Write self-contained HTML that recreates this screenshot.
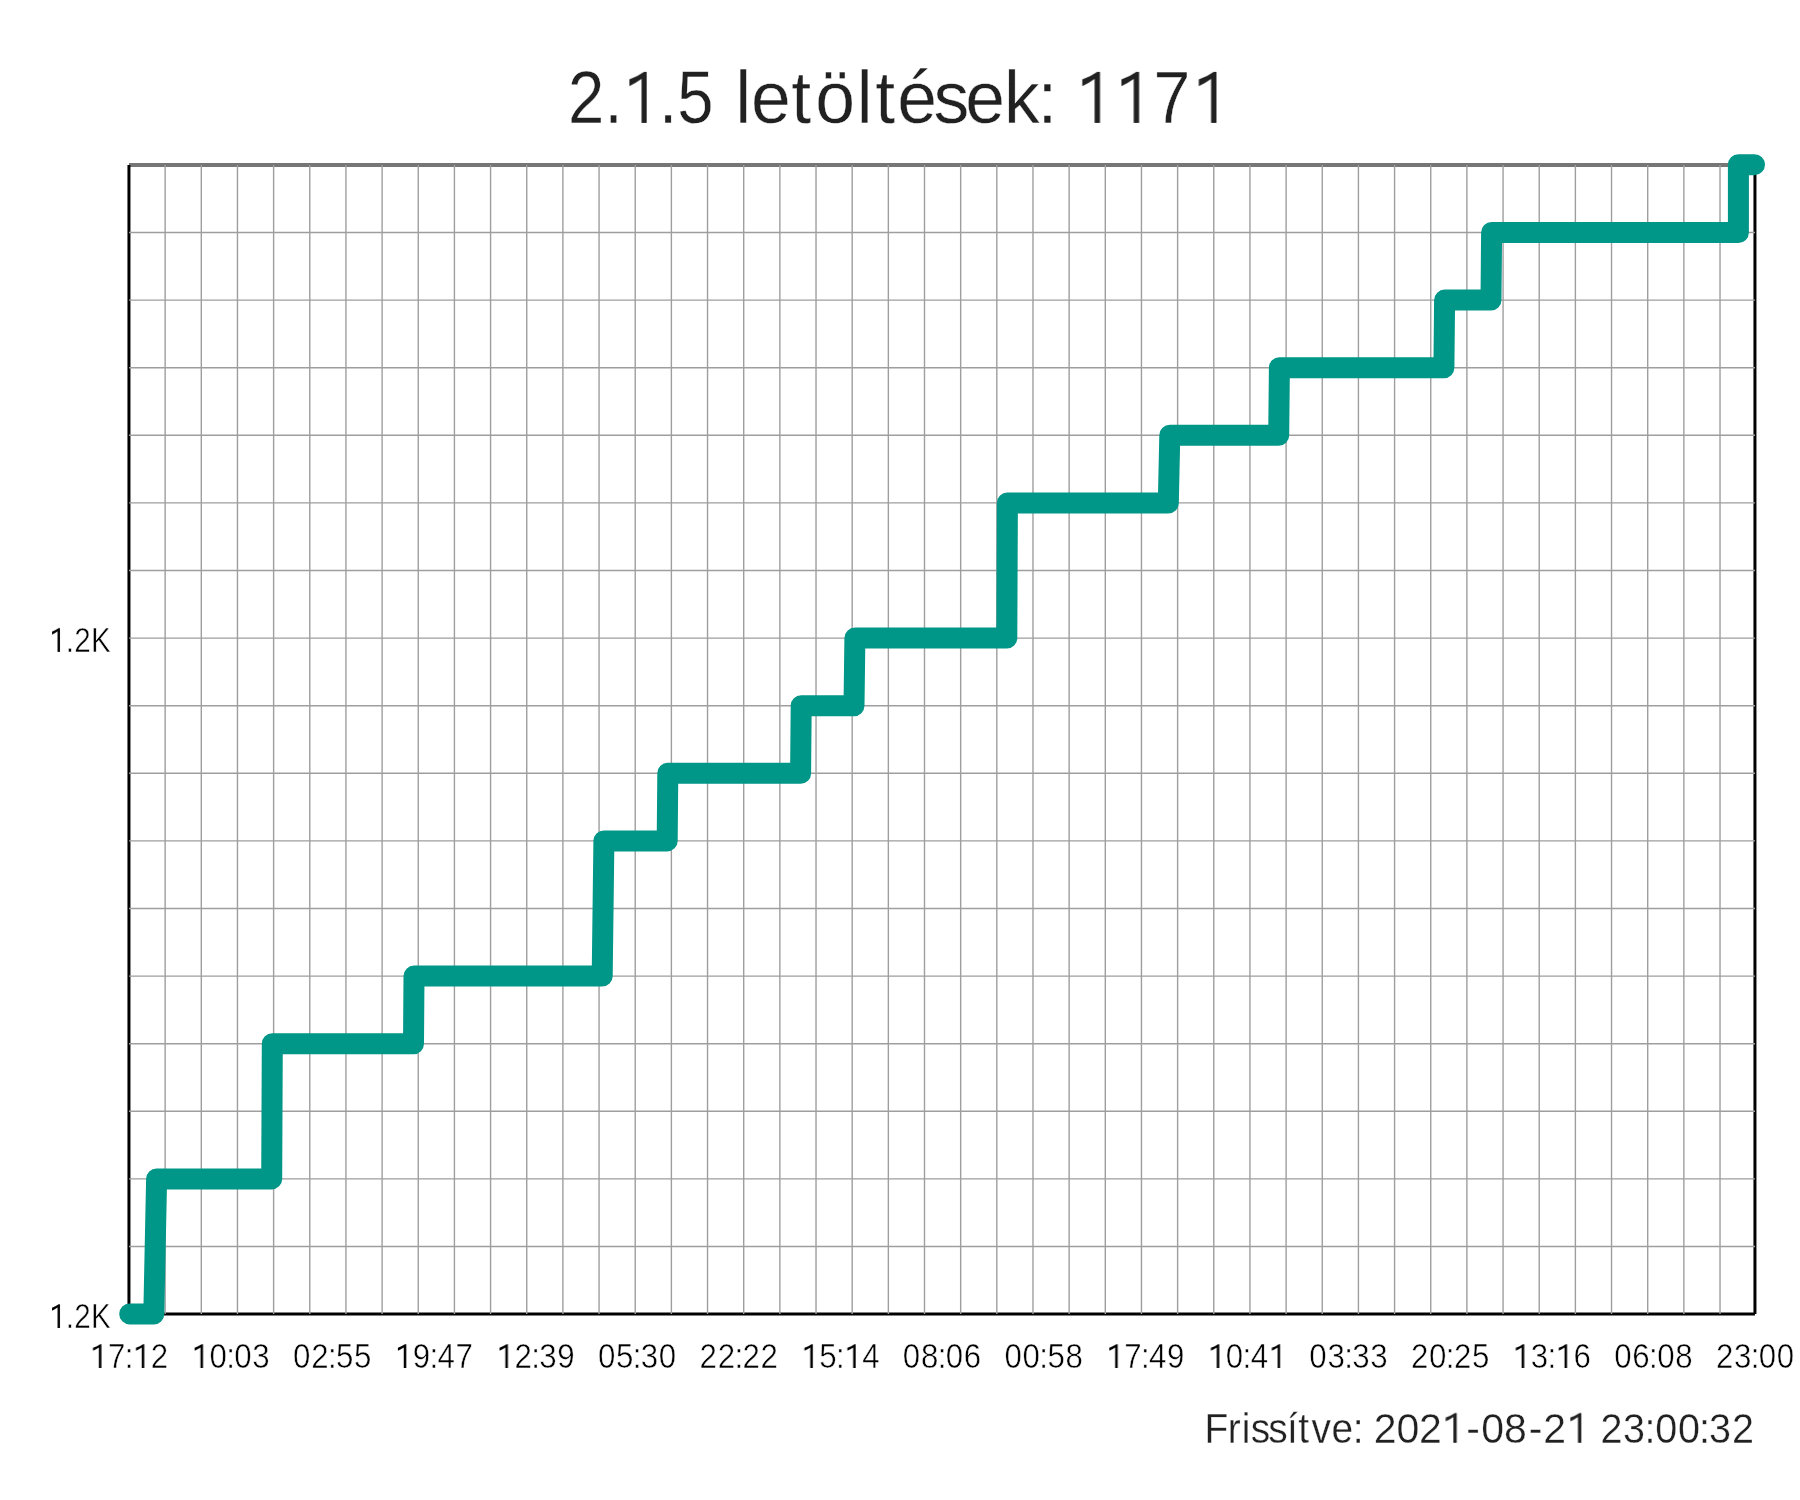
<!DOCTYPE html>
<html lang="hu"><head><meta charset="utf-8"><title>2.1.5 letöltések</title>
<style>
html,body{margin:0;padding:0;background:#fff;overflow:hidden;}
body{width:1800px;height:1500px;overflow:hidden;}
svg{display:block;font-family:"Liberation Sans",sans-serif;-webkit-font-smoothing:antialiased;}
text{will-change:transform;}
</style></head><body>
<svg width="1800" height="1500" viewBox="0 0 1800 1500">
<rect width="1800" height="1500" fill="#fff"/>
<g font-size="74.1" fill="#212121" stroke="#fff" stroke-width="0.42">
<text x="645.59 686.87 710.14 748.91 769.74" y="0" transform="translate(0,122.9) scale(0.88,1)">2.<tspan visibility="hidden">1</tspan>.5</text><g stroke="none" transform="translate(0,122.9) scale(0.88,1)"><path transform="translate(710.14,0) scale(0.03618,-0.03618)" d="M522 0L522 1216Q340 1098 141 1014L141 1200Q420 1290 600 1409L689 1409L689 0Z"/></g>
<text x="761.11 777.40 819.02 843.99 886.89 906.08 928.74 966.25 999.14 1039.38 1073.97" y="0" transform="translate(0,122.9) scale(0.966,1)">letöltések:</text>
<text x="1206.87 1250.66 1291.82 1337.33" y="0" transform="translate(0,122.9) scale(0.893,1)"><tspan visibility="hidden">1</tspan><tspan visibility="hidden">1</tspan>7<tspan visibility="hidden">1</tspan></text><g stroke="none" transform="translate(0,122.9) scale(0.893,1)"><path transform="translate(1206.87,0) scale(0.03618,-0.03618)" d="M522 0L522 1216Q340 1098 141 1014L141 1200Q420 1290 600 1409L689 1409L689 0Z"/><path transform="translate(1250.66,0) scale(0.03618,-0.03618)" d="M522 0L522 1216Q340 1098 141 1014L141 1200Q420 1290 600 1409L689 1409L689 0Z"/><path transform="translate(1337.33,0) scale(0.03618,-0.03618)" d="M522 0L522 1216Q340 1098 141 1014L141 1200Q420 1290 600 1409L689 1409L689 0Z"/></g>
</g>
<line x1="129" y1="165" x2="1756" y2="165" stroke="#767676" stroke-width="3.9"/>
<g stroke="#000" stroke-width="3">
<line x1="128.95" y1="165" x2="128.95" y2="1313.95"/>
<line x1="128.95" y1="1313.95" x2="1754.95" y2="1313.95"/>
<line x1="1754.95" y1="165" x2="1754.95" y2="1313.95"/>
</g>
<g stroke="#9e9e9e" stroke-width="1.4">
<line x1="165.14" y1="165" x2="165.14" y2="1314"/>
<line x1="201.30" y1="165" x2="201.30" y2="1314"/>
<line x1="237.46" y1="165" x2="237.46" y2="1314"/>
<line x1="273.62" y1="165" x2="273.62" y2="1314"/>
<line x1="309.78" y1="165" x2="309.78" y2="1314"/>
<line x1="345.94" y1="165" x2="345.94" y2="1314"/>
<line x1="382.10" y1="165" x2="382.10" y2="1314"/>
<line x1="418.26" y1="165" x2="418.26" y2="1314"/>
<line x1="454.42" y1="165" x2="454.42" y2="1314"/>
<line x1="490.58" y1="165" x2="490.58" y2="1314"/>
<line x1="526.74" y1="165" x2="526.74" y2="1314"/>
<line x1="562.90" y1="165" x2="562.90" y2="1314"/>
<line x1="599.06" y1="165" x2="599.06" y2="1314"/>
<line x1="635.22" y1="165" x2="635.22" y2="1314"/>
<line x1="671.38" y1="165" x2="671.38" y2="1314"/>
<line x1="707.54" y1="165" x2="707.54" y2="1314"/>
<line x1="743.70" y1="165" x2="743.70" y2="1314"/>
<line x1="779.86" y1="165" x2="779.86" y2="1314"/>
<line x1="816.02" y1="165" x2="816.02" y2="1314"/>
<line x1="852.18" y1="165" x2="852.18" y2="1314"/>
<line x1="888.34" y1="165" x2="888.34" y2="1314"/>
<line x1="924.50" y1="165" x2="924.50" y2="1314"/>
<line x1="960.66" y1="165" x2="960.66" y2="1314"/>
<line x1="996.82" y1="165" x2="996.82" y2="1314"/>
<line x1="1032.98" y1="165" x2="1032.98" y2="1314"/>
<line x1="1069.14" y1="165" x2="1069.14" y2="1314"/>
<line x1="1105.30" y1="165" x2="1105.30" y2="1314"/>
<line x1="1141.46" y1="165" x2="1141.46" y2="1314"/>
<line x1="1177.62" y1="165" x2="1177.62" y2="1314"/>
<line x1="1213.78" y1="165" x2="1213.78" y2="1314"/>
<line x1="1249.94" y1="165" x2="1249.94" y2="1314"/>
<line x1="1286.10" y1="165" x2="1286.10" y2="1314"/>
<line x1="1322.26" y1="165" x2="1322.26" y2="1314"/>
<line x1="1358.42" y1="165" x2="1358.42" y2="1314"/>
<line x1="1394.58" y1="165" x2="1394.58" y2="1314"/>
<line x1="1430.74" y1="165" x2="1430.74" y2="1314"/>
<line x1="1466.90" y1="165" x2="1466.90" y2="1314"/>
<line x1="1503.06" y1="165" x2="1503.06" y2="1314"/>
<line x1="1539.22" y1="165" x2="1539.22" y2="1314"/>
<line x1="1575.38" y1="165" x2="1575.38" y2="1314"/>
<line x1="1611.54" y1="165" x2="1611.54" y2="1314"/>
<line x1="1647.70" y1="165" x2="1647.70" y2="1314"/>
<line x1="1683.86" y1="165" x2="1683.86" y2="1314"/>
<line x1="1720.02" y1="165" x2="1720.02" y2="1314"/>
<line x1="129" y1="232.50" x2="1755" y2="232.50"/>
<line x1="129" y1="300.10" x2="1755" y2="300.10"/>
<line x1="129" y1="367.70" x2="1755" y2="367.70"/>
<line x1="129" y1="435.30" x2="1755" y2="435.30"/>
<line x1="129" y1="502.90" x2="1755" y2="502.90"/>
<line x1="129" y1="570.50" x2="1755" y2="570.50"/>
<line x1="129" y1="638.10" x2="1755" y2="638.10"/>
<line x1="129" y1="705.70" x2="1755" y2="705.70"/>
<line x1="129" y1="773.30" x2="1755" y2="773.30"/>
<line x1="129" y1="840.90" x2="1755" y2="840.90"/>
<line x1="129" y1="908.50" x2="1755" y2="908.50"/>
<line x1="129" y1="976.10" x2="1755" y2="976.10"/>
<line x1="129" y1="1043.70" x2="1755" y2="1043.70"/>
<line x1="129" y1="1111.30" x2="1755" y2="1111.30"/>
<line x1="129" y1="1178.90" x2="1755" y2="1178.90"/>
<line x1="129" y1="1246.50" x2="1755" y2="1246.50"/>
</g>
<path d="M129.7,1313.95 L153.8,1313.95 L156.6,1178.90 L271.7,1178.90 L272.3,1043.70 L413.5,1043.70 L414.0,976.10 L602.2,976.10 L603.9,840.90 L667.2,840.90 L667.8,773.30 L800.6,773.30 L801.2,705.70 L854.0,705.70 L854.9,638.10 L1006.8,638.10 L1007.4,502.90 L1168.3,502.90 L1169.8,435.30 L1278.7,435.30 L1279.4,367.70 L1443.9,367.70 L1444.6,300.10 L1491.0,300.10 L1491.6,232.50 L1738.4,232.50 L1738.4,164.70 L1754.5,164.70" fill="none" stroke="#009688" stroke-width="21" stroke-linejoin="round" stroke-linecap="round"/>
<g font-size="34.7" fill="#000" stroke="#fff" stroke-width="0.5">
<text x="58.62 77.13 86.95 106.78" y="0" transform="translate(0,651.9) scale(0.853,1)"><tspan visibility="hidden">1</tspan>.2K</text><g stroke="none" transform="translate(0,651.9) scale(0.853,1)"><path transform="translate(58.62,0) scale(0.01694,-0.01694)" d="M522 0L522 1216Q340 1098 141 1014L141 1200Q420 1290 600 1409L689 1409L689 0Z"/></g>
<text x="58.62 77.13 86.95 106.78" y="0" transform="translate(0,1328) scale(0.853,1)"><tspan visibility="hidden">1</tspan>.2K</text><g stroke="none" transform="translate(0,1328) scale(0.853,1)"><path transform="translate(58.62,0) scale(0.01694,-0.01694)" d="M522 0L522 1216Q340 1098 141 1014L141 1200Q420 1290 600 1409L689 1409L689 0Z"/></g>
</g>
<g font-size="34.7" fill="#000" stroke="#fff" stroke-width="0.5">
<text x="100.96 119.91 138.51 148.63 167.46" y="0" transform="translate(0,1368) scale(0.9,1)"><tspan visibility="hidden">1</tspan>7:<tspan visibility="hidden">1</tspan>2</text><g stroke="none" transform="translate(0,1368) scale(0.9,1)"><path transform="translate(100.96,0) scale(0.01694,-0.01694)" d="M522 0L522 1216Q340 1098 141 1014L141 1200Q420 1290 600 1409L689 1409L689 0Z"/><path transform="translate(148.63,0) scale(0.01694,-0.01694)" d="M522 0L522 1216Q340 1098 141 1014L141 1200Q420 1290 600 1409L689 1409L689 0Z"/></g>
<text x="213.89 232.83 251.44 260.38 280.38" y="0" transform="translate(0,1368) scale(0.9,1)"><tspan visibility="hidden">1</tspan>0:03</text><g stroke="none" transform="translate(0,1368) scale(0.9,1)"><path transform="translate(213.89,0) scale(0.01694,-0.01694)" d="M522 0L522 1216Q340 1098 141 1014L141 1200Q420 1290 600 1409L689 1409L689 0Z"/></g>
<text x="325.64 345.75 364.36 373.31 393.31" y="0" transform="translate(0,1368) scale(0.9,1)">02:55</text>
<text x="439.73 458.67 477.28 486.23 506.23" y="0" transform="translate(0,1368) scale(0.9,1)"><tspan visibility="hidden">1</tspan>9:47</text><g stroke="none" transform="translate(0,1368) scale(0.9,1)"><path transform="translate(439.73,0) scale(0.01694,-0.01694)" d="M522 0L522 1216Q340 1098 141 1014L141 1200Q420 1290 600 1409L689 1409L689 0Z"/></g>
<text x="552.65 571.60 590.20 599.15 619.15" y="0" transform="translate(0,1368) scale(0.9,1)"><tspan visibility="hidden">1</tspan>2:39</text><g stroke="none" transform="translate(0,1368) scale(0.9,1)"><path transform="translate(552.65,0) scale(0.01694,-0.01694)" d="M522 0L522 1216Q340 1098 141 1014L141 1200Q420 1290 600 1409L689 1409L689 0Z"/></g>
<text x="664.41 684.52 703.12 712.07 732.07" y="0" transform="translate(0,1368) scale(0.9,1)">05:30</text>
<text x="777.33 797.44 816.05 825.00 845.00" y="0" transform="translate(0,1368) scale(0.9,1)">22:22</text>
<text x="891.42 910.36 928.97 939.09 957.92" y="0" transform="translate(0,1368) scale(0.9,1)"><tspan visibility="hidden">1</tspan>5:<tspan visibility="hidden">1</tspan>4</text><g stroke="none" transform="translate(0,1368) scale(0.9,1)"><path transform="translate(891.42,0) scale(0.01694,-0.01694)" d="M522 0L522 1216Q340 1098 141 1014L141 1200Q420 1290 600 1409L689 1409L689 0Z"/><path transform="translate(939.09,0) scale(0.01694,-0.01694)" d="M522 0L522 1216Q340 1098 141 1014L141 1200Q420 1290 600 1409L689 1409L689 0Z"/></g>
<text x="1003.17 1023.28 1041.89 1050.84 1070.84" y="0" transform="translate(0,1368) scale(0.9,1)">08:06</text>
<text x="1116.10 1136.21 1154.81 1163.76 1183.76" y="0" transform="translate(0,1368) scale(0.9,1)">00:58</text>
<text x="1230.19 1249.13 1267.74 1276.68 1296.68" y="0" transform="translate(0,1368) scale(0.9,1)"><tspan visibility="hidden">1</tspan>7:49</text><g stroke="none" transform="translate(0,1368) scale(0.9,1)"><path transform="translate(1230.19,0) scale(0.01694,-0.01694)" d="M522 0L522 1216Q340 1098 141 1014L141 1200Q420 1290 600 1409L689 1409L689 0Z"/></g>
<text x="1343.11 1362.05 1380.66 1389.61 1410.77" y="0" transform="translate(0,1368) scale(0.9,1)"><tspan visibility="hidden">1</tspan>0:4<tspan visibility="hidden">1</tspan></text><g stroke="none" transform="translate(0,1368) scale(0.9,1)"><path transform="translate(1343.11,0) scale(0.01694,-0.01694)" d="M522 0L522 1216Q340 1098 141 1014L141 1200Q420 1290 600 1409L689 1409L689 0Z"/><path transform="translate(1410.77,0) scale(0.01694,-0.01694)" d="M522 0L522 1216Q340 1098 141 1014L141 1200Q420 1290 600 1409L689 1409L689 0Z"/></g>
<text x="1454.86 1474.97 1493.58 1502.53 1522.53" y="0" transform="translate(0,1368) scale(0.9,1)">03:33</text>
<text x="1567.78 1587.90 1606.50 1615.45 1635.45" y="0" transform="translate(0,1368) scale(0.9,1)">20:25</text>
<text x="1681.87 1700.82 1719.42 1729.54 1748.37" y="0" transform="translate(0,1368) scale(0.9,1)"><tspan visibility="hidden">1</tspan>3:<tspan visibility="hidden">1</tspan>6</text><g stroke="none" transform="translate(0,1368) scale(0.9,1)"><path transform="translate(1681.87,0) scale(0.01694,-0.01694)" d="M522 0L522 1216Q340 1098 141 1014L141 1200Q420 1290 600 1409L689 1409L689 0Z"/><path transform="translate(1729.54,0) scale(0.01694,-0.01694)" d="M522 0L522 1216Q340 1098 141 1014L141 1200Q420 1290 600 1409L689 1409L689 0Z"/></g>
<text x="1793.63 1813.74 1832.35 1841.30 1861.30" y="0" transform="translate(0,1368) scale(0.9,1)">06:08</text>
<text x="1906.55 1926.66 1945.27 1954.22 1974.22" y="0" transform="translate(0,1368) scale(0.9,1)">23:00</text>
</g>
<g font-size="43.2" fill="#212121" stroke="#fff" stroke-width="0.33">
<text x="1336.95 1362.76 1378.23 1388.27 1407.69 1428.42 1441.00 1455.57 1477.93 1501.32" y="0" transform="translate(0,1442.8) scale(0.901,1)">Frissítve:</text>
<text x="1447.52 1471.65 1495.36 1520.42 1545.07 1560.80 1584.93 1610.83 1626.24 1651.72" y="0" transform="translate(0,1442.8) scale(0.949,1)">202<tspan visibility="hidden">1</tspan>-08-2<tspan visibility="hidden">1</tspan></text><g stroke="none" transform="translate(0,1442.8) scale(0.949,1)"><path transform="translate(1520.42,0) scale(0.02109,-0.02109)" d="M522 0L522 1216Q340 1098 141 1014L141 1200Q420 1290 600 1409L689 1409L689 0Z"/><path transform="translate(1651.72,0) scale(0.02109,-0.02109)" d="M522 0L522 1216Q340 1098 141 1014L141 1200Q420 1290 600 1409L689 1409L689 0Z"/></g>
<text x="1749.08 1773.78 1797.28 1808.97 1833.78 1856.84 1867.66 1893.01" y="0" transform="translate(0,1442.8) scale(0.915,1)">23:00:32</text>
</g>
</svg>
</body></html>
